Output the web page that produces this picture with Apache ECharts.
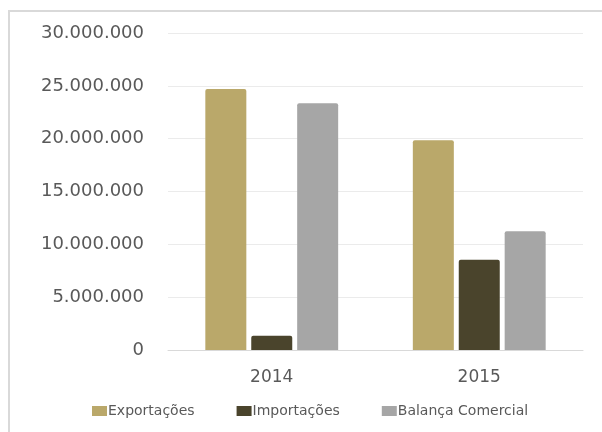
<!DOCTYPE html>
<html>
<head>
<meta charset="utf-8">
<script src="https://cdn.jsdelivr.net/npm/echarts@6/dist/echarts.min.js"></script>
<style>
  html, body { margin: 0; padding: 0; background: #fff; }
  #chart { width: 602px; height: 432px; }
</style>
</head>
<body>
<div id="chart"></div>
<script>
// anos e valores
const years = ['2014', '2015'];
const exportacoes = [24700000, 19850000];
const importacoes = [1350000, 8550000];
const balanca = [23350000, 11250000];

const seriesNames = ['Exportações', 'Importações', 'Balança Comercial'];
const colors = ['#BAA86A', '#4A442C', '#A6A6A6'];

function fmt(v) {
  return String(v).replace(/\B(?=(\d{3})+(?!\d))/g, '.');
}

function fnSeries(data, name, color) {
  return {
    name: name,
    type: 'bar',
    data: data,
    barWidth: 41,
    barGap: '12%',
    itemStyle: {
      color: color,
      borderRadius: [2, 2, 0, 0]
    }
  };
}

const chart = echarts.init(document.getElementById('chart'), null, { renderer: 'canvas' });

chart.setOption({
  animation: false,
  textStyle: { fontFamily: 'DejaVu Sans' },
  graphic: [{
    type: 'rect',
    shape: { x: 9, y: 11, width: 700, height: 500 },
    style: { fill: 'none', stroke: '#D9D9D9', lineWidth: 2 },
    silent: true
  }],
  color: colors,
  legend: {
    bottom: 14,
    left: 92,
    padding: 0,
    itemWidth: 15,
    itemHeight: 10,
    itemGap: 42,
    icon: 'rect',
    textStyle: { color: '#595959', fontSize: 14, padding: [0, 0, 0, -4] },
    data: seriesNames
  },
  grid: {
    left: 168,
    right: 19,
    top: 33,
    bottom: 82
  },
  xAxis: {
    type: 'category',
    data: years,
    axisTick: { show: false },
    axisLine: { lineStyle: { color: '#D9D9D9', width: 1 } },
    axisLabel: { color: '#595959', fontSize: 17, margin: 19 }
  },
  yAxis: {
    type: 'value',
    min: 0,
    max: 30000000,
    interval: 5000000,
    axisLine: { show: false },
    axisTick: { show: false },
    splitLine: { lineStyle: { color: '#EBEBEB', width: 1 } },
    axisLabel: {
      color: '#595959',
      fontSize: 18,
      margin: 24,
      formatter: fmt
    }
  },
  series: [
    fnSeries(exportacoes, seriesNames[0], colors[0]),
    fnSeries(importacoes, seriesNames[1], colors[1]),
    fnSeries(balanca, seriesNames[2], colors[2])
  ]
});
</script>
</body>
</html>
